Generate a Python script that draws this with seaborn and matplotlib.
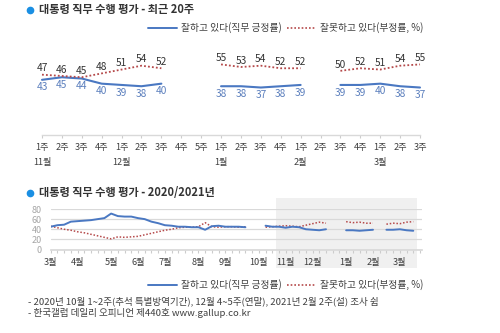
import numpy as np
import pandas as pd
import matplotlib
matplotlib.use("Agg")
import matplotlib.pyplot as plt
import matplotlib.transforms as mtransforms
from matplotlib.lines import Line2D
from matplotlib.patches import Rectangle
import seaborn as sns

# Weekly approval (positive) and disapproval (negative), 2020-03 week 1 .. 2021-03 week 3
nan = np.nan
positive = [45, 48, 49, 55, 56, 57, 58, 60, 62, 71,
            66, 65, 65, 62, 60, 55, 52, 48, 47, 45,
            45, 44, 44, 39, 46, 47, 45, 45, 45, 44,
            nan, nan, 47, 45, 45, 43, 45, 44, 40, 39,
            38, 40, nan, nan, 38, 38, 37, 38, 39, nan,
            39, 39, 40, 38, 37]
negative = [46, 43, 40, 38, 35, 33, 30, 27, 24, 21,
            25, 24, 25, 26, 29, 32, 35, 38, 40, 43,
            44, 44, 45, 53, 45, 44, 45, 45, 44, 45,
            nan, nan, 44, 45, 46, 47, 46, 45, 48, 51,
            54, 52, nan, nan, 55, 53, 54, 52, 52, nan,
            50, 52, 51, 54, 55]

year_month_labels = ["3월", "4월", "5월", "6월", "7월", "8월", "9월",
                     "10월", "11월", "12월", "1월", "2월", "3월"]
year_month_pos = [0, 4, 9, 13, 17, 22, 26, 31, 35, 39, 44, 48, 52]

recent_weeks = ["1주", "2주", "3주", "4주", "1주", "2주", "3주", "4주", "5주",
                "1주", "2주", "3주", "4주", "1주", "2주", "3주", "4주",
                "1주", "2주", "3주"]
recent_month_labels = ["11월", "12월", "1월", "2월", "3월"]
recent_month_pos = [0, 4, 9, 13, 17]
RECENT = 20

pos_label = "잘하고 있다(직무 긍정률)"
neg_label = "잘못하고 있다(부정률, %)"
title_recent = "대통령 직무 수행 평가 - 최근 20주"
title_year = "대통령 직무 수행 평가 - 2020/2021년"
notes = ["- 2020년 10월 1~2주(추석 특별방역기간), 12월 4~5주(연말), 2021년 2월 2주(설) 조사 쉼",
         "- 한국갤럽 데일리 오피니언 제440호 www.gallup.co.kr"]

sns.set_theme(style="white")
plt.rcParams["font.family"] = ["Noto Sans CJK KR", "DejaVu Sans"]

BLUE = "#4a78c2"
RED = "#b5494a"
DOT = "#1a8fe3"
TXT = "#333333"
AXC = "#d9d9d9"

W, H = 500, 333
fig = plt.figure(figsize=(W / 100, H / 100), dpi=100)
fig.patch.set_facecolor("white")


def fx(px):
    return px / W


def fy(py):
    return 1 - py / H


def frame(values):
    s = pd.Series(values, dtype=float)
    seg = s.isna().cumsum()
    df = pd.DataFrame({"x": np.arange(len(s)), "y": s, "seg": seg})
    return df.dropna()


full = pd.DataFrame({"pos": positive, "neg": negative})

# ---------- recent 20 weeks ----------
ax1 = fig.add_axes([fx(42), fy(135), fx(420 - 42), 77 / H])
recent = full.iloc[-RECENT:].reset_index(drop=True)
dpos = frame(recent["pos"].values)
dneg = frame(recent["neg"].values)
sns.lineplot(data=dpos, x="x", y="y", units="seg", estimator=None, ax=ax1,
             color=BLUE, lw=1.5, clip_on=False)
sns.lineplot(data=dneg, x="x", y="y", units="seg", estimator=None, ax=ax1,
             color=RED, lw=1.3, linestyle=(0, (1, 1.2)), clip_on=False)
for _, r in dneg.iterrows():
    ax1.annotate(f"{int(r.y)}", (r.x, r.y), xytext=(0, 4.5), textcoords="offset points",
                 ha="center", va="center", fontsize=7.3, color=TXT)
for _, r in dpos.iterrows():
    ax1.annotate(f"{int(r.y)}", (r.x, r.y), xytext=(0, -5.5), textcoords="offset points",
                 ha="center", va="center", fontsize=7.3, color="#5b7fbd")
ax1.set_xlim(0, RECENT - 1)
ax1.set_ylim(0, 60)
ax1.set_xlabel("")
ax1.set_ylabel("")
ax1.set_yticks([])
ax1.set_xticks(range(RECENT))
ax1.set_xticklabels(recent_weeks, fontsize=6.6, color="#404040")
ax1.tick_params(axis="x", length=2.5, width=0.8, color="#cccccc", pad=3, bottom=True)
for side in ["top", "right", "left"]:
    ax1.spines[side].set_visible(False)
ax1.spines["bottom"].set_color(AXC)
ax1.spines["bottom"].set_linewidth(1)
ax1.set_facecolor("none")
for p, lab in zip(recent_month_pos, recent_month_labels):
    ax1.annotate(lab, (p, 0), xycoords=("data", "axes fraction"), xytext=(0, -19.5),
                 textcoords="offset points", ha="center", va="center",
                 fontsize=6.6, color="#404040")

# ---------- 2020/2021 full year ----------
ax2 = fig.add_axes([fx(50.7), fy(249.5), fx(422 - 50.7), 40.5 / H])
ax2.set_axisbelow(True)
blend = mtransforms.blended_transform_factory(ax2.transData, ax2.transAxes)
n = len(positive)
ax2.add_patch(Rectangle((n - RECENT - 1.5, -0.46), RECENT + 1, 1.73, transform=blend,
                        facecolor="#f0f0f0", edgecolor="none", zorder=0, clip_on=False))
ypos = frame(positive)
yneg = frame(negative)
sns.lineplot(data=yneg, x="x", y="y", units="seg", estimator=None, ax=ax2,
             color=RED, lw=1.1, linestyle=(0, (1, 1.2)), zorder=3)
sns.lineplot(data=ypos, x="x", y="y", units="seg", estimator=None, ax=ax2,
             color=BLUE, lw=1.4, zorder=4)
ax2.set_xlim(0, 55.3)
ax2.set_ylim(0, 80)
ax2.set_xlabel("")
ax2.set_ylabel("")
ax2.set_yticks([0, 20, 40, 60, 80])
ax2.set_yticklabels(["0", "20", "40", "60", "80"], fontsize=6.5, color="#a6a6a6")
ax2.tick_params(axis="y", length=0, pad=6.5)
ax2.yaxis.grid(True, color=AXC, lw=0.9)
ax2.set_xticks(year_month_pos)
ax2.set_xticklabels(year_month_labels, fontsize=6.6, color="#404040")
ax2.set_xticks(np.arange(0, 56), minor=True)
ax2.tick_params(axis="x", which="both", length=2.5, width=0.8, color="#cccccc",
                pad=3.5, bottom=True)
for side in ["top", "right", "left"]:
    ax2.spines[side].set_visible(False)
ax2.spines["bottom"].set_color(AXC)
ax2.set_facecolor("none")

# ---------- titles, legends, notes ----------
for ty, title in [(10, title_recent), (193, title_year)]:
    fig.add_artist(Line2D([fx(30)], [fy(ty)], marker="o", markersize=4.5, color=DOT,
                          transform=fig.transFigure))
    fig.text(fx(39), fy(ty), title, fontsize=8, fontweight="bold", color=TXT,
             ha="left", va="center")

for ly in [28, 285]:
    fig.add_artist(Line2D([fx(148), fx(177)], [fy(ly), fy(ly)], color=BLUE, lw=1.4,
                          transform=fig.transFigure))
    fig.text(fx(181), fy(ly), pos_label, fontsize=7, color="#404040", ha="left", va="center")
    fig.add_artist(Line2D([fx(287), fx(316)], [fy(ly), fy(ly)], color=RED, lw=1.2,
                          linestyle=(0, (1, 1.2)), transform=fig.transFigure))
    fig.text(fx(320), fy(ly), neg_label, fontsize=7, color="#404040", ha="left", va="center")

for ny, note in zip([301, 313], notes):
    fig.text(fx(28), fy(ny), note, fontsize=6.9, color="#404040", ha="left", va="center")

fig.savefig("out.png", dpi=100, facecolor="white")
